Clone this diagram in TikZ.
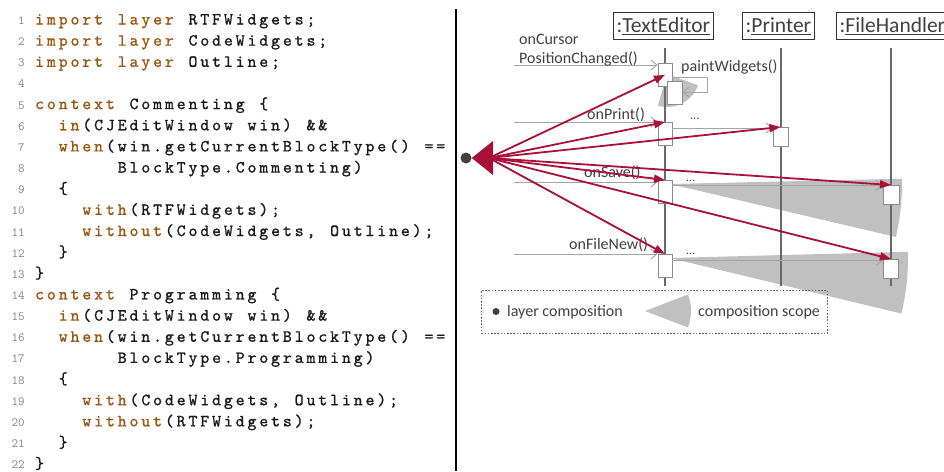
\documentclass[tikz,border=0pt]{standalone}
\usepackage{fontspec}
\newfontfamily\codefont{lmmono10-regular.otf}[FakeBold=1]
\newfontfamily\numfont{lmmono10-regular.otf}
\newfontfamily\carl{Carlito}
\usetikzlibrary{arrows.meta,calc}
\definecolor{kwc}{RGB}{155,85,15}
\definecolor{codec}{RGB}{25,25,25}
\definecolor{numc}{RGB}{135,135,135}
\definecolor{redc}{RGB}{170,15,55}
\definecolor{scopec}{RGB}{192,192,192}
\definecolor{msgc}{RGB}{165,165,165}
\definecolor{lifec}{RGB}{105,105,105}
\definecolor{txtc}{RGB}{64,64,64}
\newcommand\K{}
\ExplSyntaxOn
\bool_new:N \l_mykw_bool
\NewDocumentCommand\codeln{m}{
  \bool_set_false:N \l_mykw_bool
  \tl_map_inline:nn {#1} {
    \tl_if_eq:nnTF {##1} {\K}
      { \bool_if:NTF \l_mykw_bool { \bool_set_false:N \l_mykw_bool } { \bool_set_true:N \l_mykw_bool } }
      { \makebox[11.8pt][c]{ \bool_if:NT \l_mykw_bool { \color{kwc} } ##1 } }
  }
}
\ExplSyntaxOff
\newcommand\myul[1]{\setbox0\hbox{#1}\rlap{\rule[-3pt]{\wd0}{1.1pt}}\box0}
\tikzset{
 codeline/.style={anchor=base west, inner sep=0pt, font=\codefont\fontsize{17}{21}\selectfont, text=codec},
 lnum/.style={anchor=base east, inner sep=0pt, font=\numfont\fontsize{12.5}{15}\selectfont, text=numc},
 header/.style={draw=black!80, line width=1.3pt, inner xsep=3pt, inner ysep=0pt, minimum height=27pt, font=\carl\fontsize{21.5}{24}\selectfont, text=txtc, anchor=north west},
 lifeline/.style={draw=lifec, line width=1.1pt},
 act/.style={draw=black!45, fill=white, line width=0.8pt, inner sep=0pt, anchor=north, minimum width=14pt, minimum height=23pt},
 msgline/.style={draw=msgc, line width=0.9pt, -{Straight Barb[length=6pt,width=10pt]}},
 lbl/.style={font=\carl\fontsize{16}{19}\selectfont, text=txtc, inner sep=0pt, anchor=base west},
 dots/.style={font=\carl\fontsize{12}{14}\selectfont, text=txtc, inner sep=0pt, anchor=base west},
 redarrow/.style={draw=redc, line width=1.8pt, -{Triangle[length=11pt,width=8pt]}},
 scopefill/.style={fill=scopec, draw=none},
}
\begin{document}
\begin{tikzpicture}[x=1pt,y=-1pt]
\useasboundingbox (0,0) rectangle (944,471);
% ---------- code listing ----------
\foreach \n in {1,...,22} {
  \node[lnum] (n\n) at (25,{24.5+(\n-1)*21.15}) {\n};
}
\node[codeline] (c1) at (33.5,24.5) {\codeln{\K import~layer\K~RTFWidgets;}};
\node[codeline] (c2) at (33.5,45.65) {\codeln{\K import~layer\K~CodeWidgets;}};
\node[codeline] (c3) at (33.5,66.8) {\codeln{\K import~layer\K~Outline;}};
\node[codeline] (c5) at (33.5,109.1) {\codeln{\K context\K~Commenting~\{}};
\node[codeline] (c6) at (57.1,130.25) {\codeln{\K in\K(CJEditWindow~win)~\&\&}};
\node[codeline] (c7) at (57.1,151.4) {\codeln{\K when\K(win.getCurrentBlockType()~==}};
\node[codeline] (c8) at (116.1,172.55) {\codeln{BlockType.Commenting)}};
\node[codeline] (c9) at (57.1,193.7) {\codeln{\{}};
\node[codeline] (c10) at (80.7,214.85) {\codeln{\K with\K(RTFWidgets);}};
\node[codeline] (c11) at (80.7,236) {\codeln{\K without\K(CodeWidgets,~Outline);}};
\node[codeline] (c12) at (57.1,257.15) {\codeln{\}}};
\node[codeline] (c13) at (33.5,278.3) {\codeln{\}}};
\node[codeline] (c14) at (33.5,299.45) {\codeln{\K context\K~Programming~\{}};
\node[codeline] (c15) at (57.1,320.6) {\codeln{\K in\K(CJEditWindow~win)~\&\&}};
\node[codeline] (c16) at (57.1,341.75) {\codeln{\K when\K(win.getCurrentBlockType()~==}};
\node[codeline] (c17) at (116.1,362.9) {\codeln{BlockType.Programming)}};
\node[codeline] (c18) at (57.1,384.05) {\codeln{\{}};
\node[codeline] (c19) at (80.7,405.2) {\codeln{\K with\K(CodeWidgets,~Outline);}};
\node[codeline] (c20) at (80.7,426.35) {\codeln{\K without\K(RTFWidgets);}};
\node[codeline] (c21) at (57.1,447.5) {\codeln{\}}};
\node[codeline] (c22) at (33.5,468.65) {\codeln{\}}};
% divider
\coordinate (dvt) at (456,9);
\coordinate (dvb) at (456,471);
\draw[line width=1.3pt] (dvt) -- (dvb);
% ---------- composition scopes ----------
\coordinate (w1) at (667,74);
\coordinate (w2) at (670,184);
\coordinate (w3) at (670,258);
\fill[scopefill] (w1) -- ++(20:33) arc[start angle=20, end angle=106, radius=33] -- cycle;
\fill[scopefill] (w2) -- ++(-1.3:232) arc[start angle=-1.3, end angle=13.2, radius=232] -- cycle;
\fill[scopefill] (w3) -- ++(-1.5:238) arc[start angle=-1.5, end angle=13.5, radius=238] -- cycle;
% ---------- headers and lifelines ----------
\node[header] (te) at (613,12) {:\myul{TextEditor}};
\node[header] (pr) at (742,12) {:\myul{Printer}};
\node[header] (fh) at (836,12) {:\myul{FileHandler}};
\coordinate (teT) at (665,48); \coordinate (teB) at (665,286);
\coordinate (prT) at (781,48); \coordinate (prB) at (781,286);
\coordinate (fhT) at (891,48); \coordinate (fhB) at (891,286);
\draw[lifeline] (teT) -- (teB);
\draw[lifeline] (prT) -- (prB);
\draw[lifeline] (fhT) -- (fhB);
% activation boxes
\node[act] (a1) at (665,63) {};
\node[act, minimum width=15pt] (a1n) at (674.5,81) {};
\node[act] (a2) at (665,122) {};
\node[act, minimum width=15pt, minimum height=19pt] (p1) at (780.5,127) {};
\node[act] (a3) at (665,180) {};
\node[act, minimum width=16pt, minimum height=19pt] (f1) at (891,185) {};
\node[act] (a4) at (665,254) {};
\node[act, minimum width=15pt, minimum height=19pt] (f2) at (891,259) {};
% messages
\coordinate (s1) at (514,65);
\coordinate (s2) at (514,122);
\coordinate (s3) at (514,182);
\coordinate (s4) at (514,254);
\coordinate (lp1) at (707,77);
\coordinate (lp2) at (707,92);
\draw[msgline] (s1) -- (s1 -| a1.west);
\draw[msgline] (a1.east |- lp1) -- (lp1) -- (lp2) -- (lp2 -| a1n.east);
\draw[msgline] (s2) -- (s2 -| a2.west);
\coordinate (y2) at (0,128);
\draw[msgline] (a2.east |- y2) -- (p1.west |- y2);
\draw[msgline] (s3) -- (s3 -| a3.west);
\coordinate (y3) at (0,185.5);
\draw[msgline] (a3.east |- y3) -- (f1.west |- y3);
\draw[msgline] (s4) -- (s4 -| a4.west);
\coordinate (y4) at (0,260);
\draw[msgline] (a4.east |- y4) -- (f2.west |- y4);
% labels
\node[lbl] (l1a) at (519,44) {onCursor};
\node[lbl] (l1b) at (519,63.5) {PositionChanged()};
\node[lbl] (l1c) at (681,71) {paintWidgets()};
\node[lbl] (l2) at (587,119.5) {onPrint()};
\node[dots] (d2) at (690,119.5) {...};
\node[lbl] (l3) at (584,177.5) {onSave()};
\node[dots] (d3) at (686,181) {...};
\node[lbl] (l4) at (569,249) {onFileNew()};
\node[dots] (d4) at (686,254) {...};
% ---------- layer composition ----------
\coordinate (hub) at (489,158);
\draw[redarrow] (hub) -- (a1.center);
\draw[redarrow] (hub) -- (a2.north);
\draw[redarrow] (hub) -- (p1.north);
\draw[redarrow] (hub) -- (a3.north);
\draw[redarrow] (hub) -- (f1.north);
\draw[redarrow] (hub) -- (a4.north);
\draw[redarrow] (hub) -- (f2.north);
\node[circle, fill=black!75, minimum size=11pt, inner sep=0pt] (lc) at (466,158) {};
\fill[redc] (lc.east) -- (493,141) -- (493,175) -- cycle;
% ---------- legend ----------
\node[draw=black!60, dash pattern=on 1.6pt off 1.6pt, line width=0.8pt, minimum width=346pt, minimum height=43pt, inner sep=0pt, anchor=north west] (leg) at (481,290) {};
\node[circle, fill=black!75, minimum size=7pt, inner sep=0pt] (legdot) at (496,311.5) {};
\node[lbl] (legt1) at (507,316.5) {layer composition};
\coordinate (lw) at (645,311);
\fill[scopefill] (lw) -- ++(-21:46) arc[start angle=-21, end angle=21, radius=46] -- cycle;
\node[lbl] (legt2) at (698,316.5) {composition scope};
\end{tikzpicture}
\end{document}
